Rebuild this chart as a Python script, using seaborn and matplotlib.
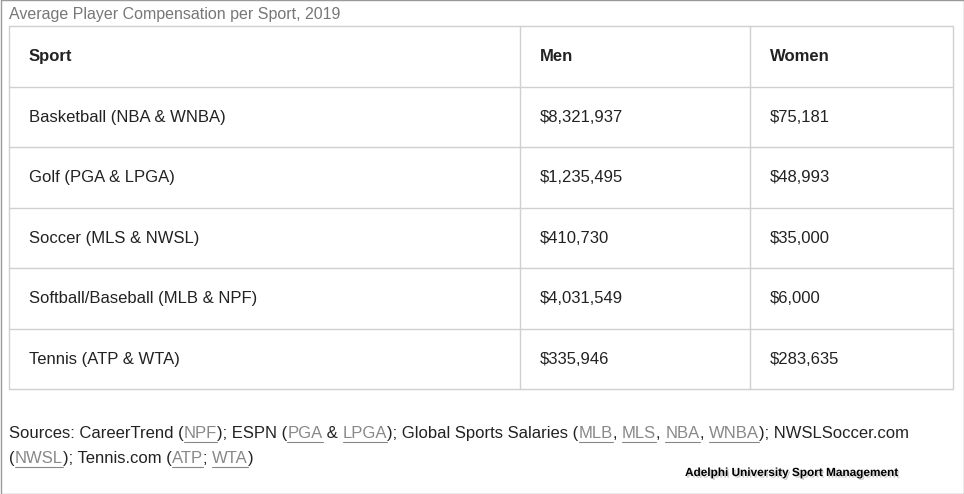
import matplotlib
matplotlib.use("Agg")
import matplotlib.pyplot as plt
import seaborn as sns
import matplotlib.patheffects as pe

sns.set_theme(style="white")
plt.rcParams['font.family'] = ['Liberation Sans', 'DejaVu Sans']

title = "Average Player Compensation per Sport, 2019"
headers = ["Sport", "Men", "Women"]
sports = ["Basketball (NBA & WNBA)", "Golf (PGA & LPGA)", "Soccer (MLS & NWSL)",
          "Softball/Baseball (MLB & NPF)", "Tennis (ATP & WTA)"]
men = ["$8,321,937", "$1,235,495", "$410,730", "$4,031,549", "$335,946"]
women = ["$75,181", "$48,993", "$35,000", "$6,000", "$283,635"]

# (text, is_link) pieces of the sources note, one list per line
source_lines = [
    [("Sources: CareerTrend (", False), ("NPF", True), ("); ESPN (", False), ("PGA", True),
     (" & ", False), ("LPGA", True), ("); Global Sports Salaries (", False), ("MLB", True),
     (", ", False), ("MLS", True), (", ", False), ("NBA", True), (", ", False), ("WNBA", True),
     ("); NWSLSoccer.com", False)],
    [("(", False), ("NWSL", True), ("); Tennis.com (", False), ("ATP", True), ("; ", False),
     ("WTA", True), (")", False)],
]

fig = plt.figure(figsize=(9.64, 4.94), dpi=100)
ax = fig.add_axes([0, 0, 1, 1])
ax.set_xlim(0, 964)
ax.set_ylim(494, 0)
ax.axis("off")

line_c = "#d0d0d0"
# outer frame
ax.plot([0.5, 963.5, 963.5, 0.5, 0.5], [0.5, 0.5, 493.5, 493.5, 0.5], color="#9a9a9a", lw=1)

ax.text(9, 14, title, fontsize=11.5, color="#777777", va="center")

col_x = [9, 520, 750, 953]
row_y = [26, 87, 147, 208, 268, 329, 389]
for y in row_y:
    ax.plot([col_x[0], col_x[-1]], [y, y], color=line_c, lw=1)
for x in col_x:
    ax.plot([x, x], [row_y[0], row_y[-1]], color=line_c, lw=1)

rows = [headers] + [list(r) for r in zip(sports, men, women)]
for i, row in enumerate(rows):
    yc = (row_y[i] + row_y[i + 1]) / 2
    for j, cell in enumerate(row):
        ax.text(col_x[j] + 20, yc, cell, fontsize=12, color="#222222", va="center",
                fontweight="bold" if i == 0 else "normal")

fig.canvas.draw()
r = fig.canvas.get_renderer()
inv = ax.transData.inverted()
for k, line in enumerate(source_lines):
    y = 433 + 25 * k
    x = 9
    for txt, link in line:
        t = ax.text(x, y, txt, fontsize=12, color="#888888" if link else "#222222", va="center")
        bb = t.get_window_extent(r)
        x0, _ = inv.transform((bb.x0, bb.y0))
        x1, _ = inv.transform((bb.x1, bb.y0))
        if link:
            ax.plot([x0, x1], [y + 9, y + 9], color="#888888", lw=0.8)
        x = x1

ax.text(685, 473, "Adelphi University Sport Management", fontsize=8.5, fontweight="bold",
        color="black", va="center",
        path_effects=[pe.withSimplePatchShadow(offset=(1.2, -1.2), shadow_rgbFace="#bbbbbb", alpha=0.7)])

fig.savefig("out.png", dpi=100)
